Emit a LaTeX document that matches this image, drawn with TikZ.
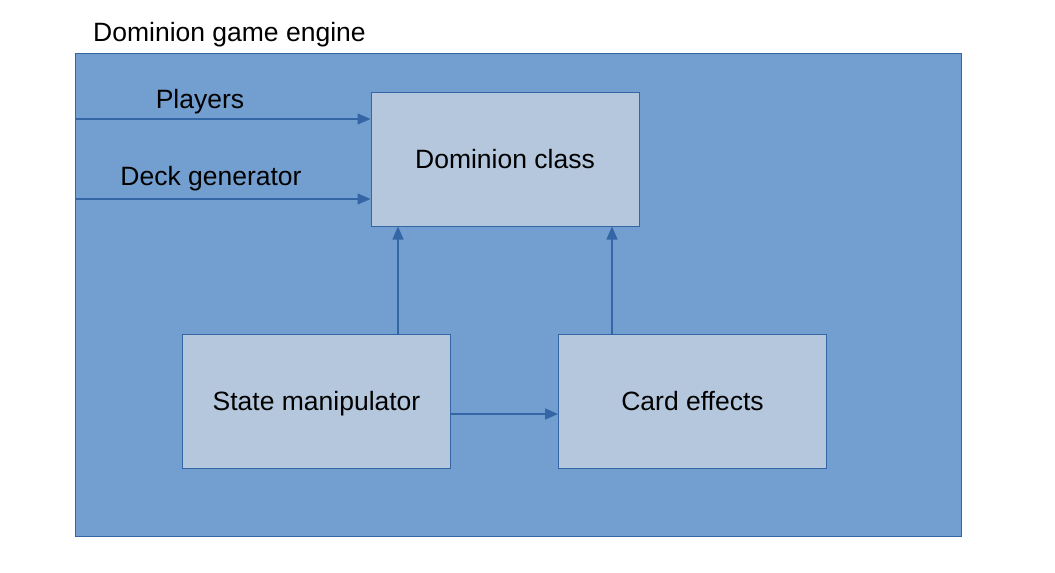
\documentclass[tikz,border=0pt]{standalone}
\usepackage{fontspec}
\setmainfont{Liberation Sans}
\usetikzlibrary{arrows.meta}
\definecolor{outerfill}{HTML}{729FCF}
\definecolor{edgeblue}{HTML}{3465A4}
\definecolor{boxfill}{HTML}{B4C7DC}
\begin{document}
\begin{tikzpicture}[x=1pt,y=-1pt,
  lbl/.style={font=\fontsize{26.5}{30}\selectfont, inner sep=0pt, text=black, text height=19pt, text depth=0pt},
  blockbox/.style={draw=edgeblue, fill=boxfill, line width=1pt, minimum width=268pt, minimum height=134pt, inner sep=0pt, text height=19pt, text depth=0pt, font=\fontsize{26.5}{30}\selectfont},
  conn/.style={draw=edgeblue, line width=1.2pt, -{Triangle[length=13pt,width=11pt]}}]
\useasboundingbox (0,0) rectangle (1055,573);
\node[draw=edgeblue, fill=outerfill, line width=1pt, minimum width=886pt, minimum height=483pt, inner sep=0pt, anchor=north west] (engine) at (75,53) {};
\node[lbl, anchor=west] (title) at (93,32) {Dominion game engine};
\node[blockbox] (dom) at (505,159) {Dominion class};
\node[blockbox] (state) at (316.5,401) {State manipulator};
\node[blockbox] (card) at (692.5,401) {Card effects};
\coordinate (pin) at (75,119);
\coordinate (din) at (75,199);
\draw[conn] (pin) -- (pin -| dom.west);
\draw[conn] (din) -- (din -| dom.west);
\node[lbl] (players) at (200,99) {Players};
\node[lbl] (deck) at (211,176) {Deck generator};
\draw[conn] (state.north -| 398,0) -- (dom.south -| 398,0);
\draw[conn] (card.north -| 612,0) -- (dom.south -| 612,0);
\draw[conn] (state.east |- 0,414) -- (card.west |- 0,414);
\end{tikzpicture}
\end{document}
